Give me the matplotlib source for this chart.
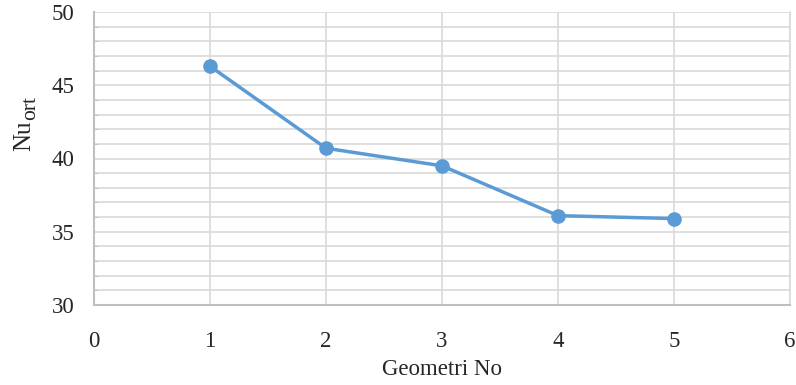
import matplotlib
matplotlib.use("Agg")
import matplotlib.pyplot as plt
from matplotlib.ticker import MultipleLocator

geometry_no = [1, 2, 3, 4, 5]
nu_ort = [46.3, 40.7, 39.5, 36.1, 35.9]
x_ticks = [0, 1, 2, 3, 4, 5, 6]
y_ticks = [30, 35, 40, 45, 50]

plt.rcParams['font.family'] = ['Liberation Serif', 'DejaVu Serif']

W, H = 796, 385
fig = plt.figure(figsize=(W / 100, H / 100), dpi=100)
ax = fig.add_axes([94/W, 1 - 305/H, (790-94)/W, (305-12)/H])

ax.plot(geometry_no, nu_ort, color='#5B9BD5', lw=2.5, marker='o', ms=9.5, zorder=3)

ax.set_xlim(0, 6)
ax.set_ylim(30, 50)
ax.set_xticks(x_ticks)
ax.set_yticks(y_ticks)
ax.yaxis.set_minor_locator(MultipleLocator(1))
ax.grid(True, which='both', axis='y', color='#D9D9D9', lw=1.2)
ax.grid(True, which='major', axis='x', color='#D9D9D9', lw=1.2)
ax.set_axisbelow(True)

ax.spines['top'].set_visible(False)
ax.spines['right'].set_color('#D9D9D9')
ax.spines['right'].set_linewidth(1.2)
for s in ['left', 'bottom']:
    ax.spines[s].set_color('#BFBFBF')
    ax.spines[s].set_linewidth(1.5)

ax.tick_params(axis='both', which='both', length=0, labelsize=16.5, colors='#262626')
ax.tick_params(axis='y', which='minor', length=3, color='#BFBFBF', direction='in')
ax.tick_params(axis='x', pad=19)
ax.tick_params(axis='y', pad=14)

ax.set_xlabel('Geometri No', fontsize=16.5, color='#262626', labelpad=5)

# y label "Nu" with subscript "ort" (drawn as two rotated texts)
t_nu = fig.text(30/W, 1 - 151/H, 'Nu', rotation=90, rotation_mode='anchor',
                ha='left', va='baseline', fontsize=18, color='#262626')
fig.canvas.draw()
bb = t_nu.get_window_extent(fig.canvas.get_renderer())
fig.text(35/W, bb.y1 / H, 'ort', rotation=90, rotation_mode='anchor',
         ha='left', va='baseline', fontsize=15.5, color='#262626')

fig.savefig('out.png', dpi=100)
